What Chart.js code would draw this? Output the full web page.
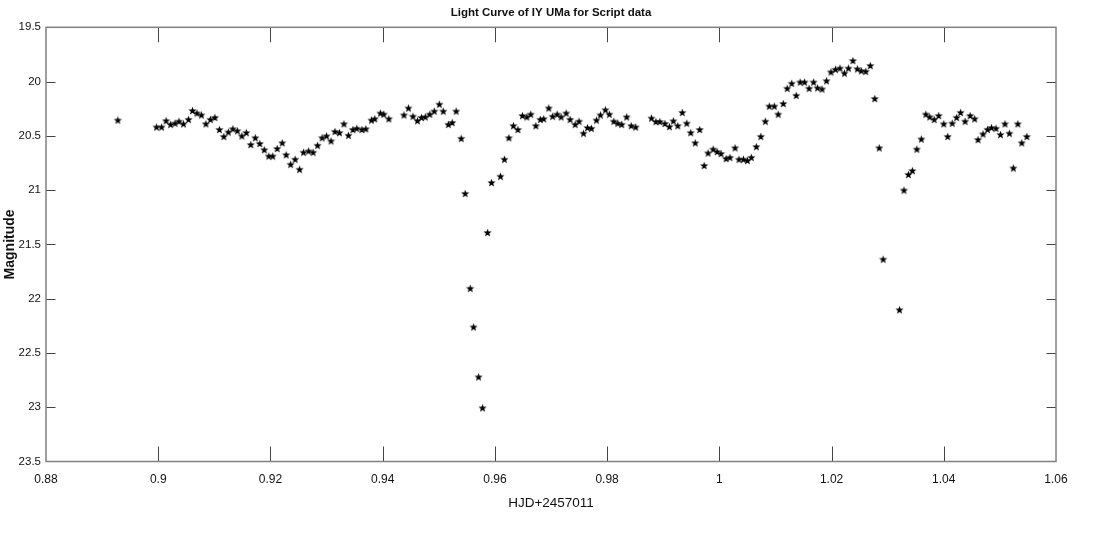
<!DOCTYPE html>
<html>
<head>
<meta charset="utf-8">
<title>Light Curve of IY UMa</title>
<script src="https://cdn.jsdelivr.net/npm/chart.js@4.4.1/dist/chart.umd.min.js"></script>
<style>
    body { margin: 0; background: #fff; }
    canvas { display: block; }
</style>
</head>
<body>
<canvas id="lightCurve" width="1103" height="544"></canvas>
<script>
// Light curve data (HJD - 2457011, magnitude)
const hjd = [
    0.8928, 0.8997, 0.9006, 0.9014, 0.9022, 0.9030, 0.9037, 0.9045, 0.9054, 0.9061,
    0.9069, 0.9077, 0.9085, 0.9093, 0.9101, 0.9109, 0.9117, 0.9125, 0.9133, 0.9141,
    0.9149, 0.9157, 0.9165, 0.9173, 0.9181, 0.9189, 0.9197, 0.9204, 0.9212, 0.9221,
    0.9228, 0.9236, 0.9244, 0.9252, 0.9259, 0.9268, 0.9276, 0.9284, 0.9292, 0.9300,
    0.9308, 0.9315, 0.9323, 0.9331, 0.9339, 0.9347, 0.9354, 0.9363, 0.9370, 0.9380,
    0.9386, 0.9396, 0.9402, 0.9411, 0.9438, 0.9446, 0.9454, 0.9462, 0.9469, 0.9476,
    0.9484, 0.9492, 0.9501, 0.9508, 0.9517, 0.9524, 0.9531, 0.9540, 0.9547, 0.9556,
    0.9562, 0.9571, 0.9578, 0.9587, 0.9594, 0.9610, 0.9617, 0.9625, 0.9633, 0.9641,
    0.9649, 0.9657, 0.9664, 0.9673, 0.9681, 0.9687, 0.9696, 0.9703, 0.9711, 0.9718,
    0.9727, 0.9734, 0.9743, 0.9750, 0.9758, 0.9765, 0.9772, 0.9781, 0.9788, 0.9797,
    0.9804, 0.9812, 0.9819, 0.9826, 0.9835, 0.9843, 0.9851, 0.9879, 0.9887, 0.9894,
    0.9903, 0.9911, 0.9918, 0.9926, 0.9934, 0.9942, 0.9949, 0.9957, 0.9965, 0.9973,
    0.9980, 0.9989, 0.9996, 1.0003, 1.0012, 1.0019, 1.0028, 1.0035, 1.0043, 1.0050,
    1.0057, 1.0066, 1.0074, 1.0082, 1.0089, 1.0098, 1.0105, 1.0114, 1.0121, 1.0129,
    1.0137, 1.0144, 1.0152, 1.0160, 1.0168, 1.0175, 1.0183, 1.0191, 1.0199, 1.0207,
    1.0215, 1.0223, 1.0230, 1.0238, 1.0246, 1.0253, 1.0261, 1.0269, 1.0277, 1.0285,
    1.0292, 1.0321, 1.0329, 1.0337, 1.0344, 1.0352, 1.0360, 1.0368, 1.0375, 1.0383,
    1.0391, 1.0400, 1.0407, 1.0415, 1.0423, 1.0430, 1.0438, 1.0447, 1.0455, 1.0461,
    1.0470, 1.0478, 1.0485, 1.0493, 1.0501, 1.0509, 1.0517, 1.0524, 1.0532, 1.0539,
    1.0548
];

const magnitude = [
    20.354, 20.418, 20.418, 20.360, 20.394, 20.383, 20.365, 20.389, 20.348, 20.267,
    20.290, 20.307, 20.389, 20.348, 20.330, 20.441, 20.505, 20.464, 20.435, 20.453,
    20.500, 20.470, 20.580, 20.517, 20.570, 20.628, 20.686, 20.686, 20.616, 20.564,
    20.674, 20.762, 20.715, 20.808, 20.651, 20.639, 20.651, 20.587, 20.517, 20.500,
    20.546, 20.459, 20.470, 20.389, 20.494, 20.441, 20.430, 20.441, 20.435, 20.354,
    20.342, 20.290, 20.300, 20.342, 20.307, 20.243, 20.319, 20.360, 20.330, 20.325,
    20.300, 20.272, 20.208, 20.272, 20.394, 20.377, 20.272, 20.523, 21.030, 21.904,
    22.260, 22.720, 23.005, 21.390, 20.930, 20.872, 20.715, 20.517, 20.406, 20.441,
    20.313, 20.325, 20.300, 20.406, 20.348, 20.342, 20.243, 20.319, 20.300, 20.325,
    20.290, 20.348, 20.394, 20.365, 20.476, 20.424, 20.430, 20.354, 20.307, 20.260,
    20.300, 20.365, 20.383, 20.394, 20.325, 20.406, 20.418, 20.336, 20.368, 20.368,
    20.386, 20.415, 20.362, 20.406, 20.284, 20.383, 20.470, 20.564, 20.441, 20.773,
    20.657, 20.622, 20.645, 20.663, 20.709, 20.698, 20.610, 20.715, 20.715, 20.726,
    20.698, 20.599, 20.505, 20.365, 20.226, 20.226, 20.300, 20.202, 20.062, 20.016,
    20.127, 20.004, 20.004, 20.062, 20.004, 20.057, 20.068, 19.992, 19.911, 19.887,
    19.876, 19.922, 19.876, 19.806, 19.882, 19.900, 19.905, 19.852, 20.156, 20.610,
    21.636, 22.102, 21.000, 20.855, 20.820, 20.622, 20.529, 20.300, 20.325, 20.348,
    20.313, 20.389, 20.505, 20.383, 20.330, 20.284, 20.365, 20.313, 20.342, 20.534,
    20.482, 20.440, 20.424, 20.430, 20.488, 20.389, 20.476, 20.796, 20.389, 20.564,
    20.505
];

// Axis ticks
const xTicks = [0.88, 0.9, 0.92, 0.94, 0.96, 0.98, 1, 1.02, 1.04, 1.06];
const yTicks = [19.5, 20, 20.5, 21, 21.5, 22, 22.5, 23, 23.5];

const FONT = "'Liberation Sans', Arial, sans-serif";

// Filled pentagram marker
function makeStar(r) {
    const size = Math.ceil(r * 2) + 2;
    const c = document.createElement('canvas');
    c.width = size;
    c.height = size;
    const g = c.getContext('2d');
    const cx = size / 2, cy = size / 2 + r * 0.1;
    g.beginPath();
    for (let i = 0; i < 10; i++) {
        const rad = i % 2 === 0 ? r : r * 0.42;
        const a = -Math.PI / 2 + i * Math.PI / 5;
        const px = cx + rad * Math.cos(a);
        const py = cy + rad * Math.sin(a);
        if (i === 0) g.moveTo(px, py); else g.lineTo(px, py);
    }
    g.closePath();
    g.fillStyle = '#000';
    g.fill();
    return c;
}

// Box around plot area with inward tick marks on all sides
const boxTicks = {
    id: 'boxTicks',
    afterDraw(chart) {
        const { ctx, chartArea: a, scales: { x, y } } = chart;
        ctx.save();
        ctx.strokeStyle = '#444';
        ctx.lineWidth = 1;
        ctx.beginPath();
        xTicks.slice(1, -1).forEach(v => {
            const px = Math.round(x.getPixelForValue(v)) + 0.5;
            ctx.moveTo(px, a.bottom); ctx.lineTo(px, a.bottom - 15);
            ctx.moveTo(px, a.top); ctx.lineTo(px, a.top + 15);
        });
        yTicks.slice(1, -1).forEach(v => {
            const py = Math.round(y.getPixelForValue(v)) + 0.5;
            ctx.moveTo(a.left, py); ctx.lineTo(a.left + 9.5, py);
            ctx.moveTo(a.right, py); ctx.lineTo(a.right - 9.5, py);
        });
        ctx.stroke();
        ctx.strokeStyle = '#808080';
        ctx.lineWidth = 1.5;
        ctx.strokeRect(a.left, a.top, a.right - a.left, a.bottom - a.top);
        ctx.restore();
    }
};

const points = hjd.map((v, i) => ({ x: v, y: magnitude[i] }));

new Chart(document.getElementById('lightCurve'), {
    type: 'scatter',
    data: {
        datasets: [{
            label: 'Script data',
            data: points,
            pointStyle: makeStar(4.3),
            pointRadius: 4,
            backgroundColor: '#000',
            borderColor: '#000'
        }]
    },
    options: {
        responsive: false,
        animation: false,
        layout: { padding: { left: 0, right: 47, top: 0, bottom: 0 } },
        plugins: {
            legend: { display: false },
            tooltip: { enabled: false },
            title: {
                display: true,
                text: 'Light Curve of IY UMa for Script data',
                fullSize: false,
                color: '#111',
                font: { family: FONT, size: 11.5, weight: 'bold' },
                padding: { top: 5.5, bottom: 8 }
            }
        },
        scales: {
            x: {
                type: 'linear',
                min: 0.88,
                max: 1.06,
                afterBuildTicks: s => { s.ticks = xTicks.map(v => ({ value: v })); },
                afterFit: s => { s.height = 82.5; },
                ticks: {
                    color: '#111',
                    padding: 11,
                    maxRotation: 0,
                    font: { family: FONT, size: 12 },
                    callback: v => String(Number(v.toFixed(2)))
                },
                grid: { display: false, drawTicks: false },
                border: { display: false },
                title: {
                    display: true,
                    text: 'HJD+2457011',
                    color: '#111',
                    font: { family: FONT, size: 13.5 },
                    padding: { top: 0, bottom: 33 }
                }
            },
            y: {
                type: 'linear',
                reverse: true,
                min: 19.5,
                max: 23.5,
                afterBuildTicks: s => { s.ticks = yTicks.map(v => ({ value: v })); },
                afterFit: s => { s.width = 46; },
                ticks: {
                    color: '#111',
                    padding: 5,
                    font: { family: FONT, size: 11.5 },
                    callback: v => String(v)
                },
                grid: { display: false, drawTicks: false },
                border: { display: false },
                title: {
                    display: true,
                    text: 'Magnitude',
                    color: '#111',
                    font: { family: FONT, size: 14, weight: 'bold' },
                    padding: { top: 1.5, bottom: 0 }
                }
            }
        }
    },
    plugins: [boxTicks]
});
</script>
</body>
</html>
